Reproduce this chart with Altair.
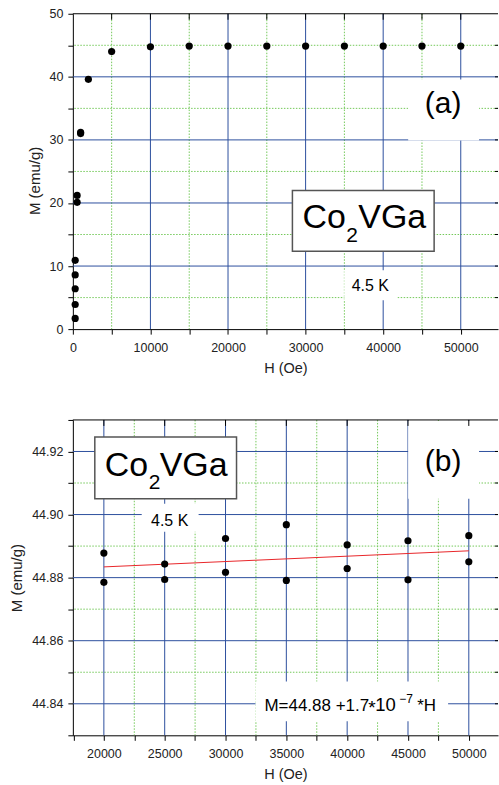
import altair as alt
import pandas as pd

# ---------------- data ----------------
top_H = [300, 300, 300, 300, 300, 550, 550, 1000, 1000, 2000, 5000, 10000, 15000,
         20000, 25000, 30000, 35000, 40000, 45000, 50000]
top_M = [1.7, 3.9, 6.4, 8.6, 10.9, 20.1, 21.2, 31.0, 31.2, 39.6, 44.0, 44.75, 44.87,
         44.88, 44.88, 44.88, 44.88, 44.88, 44.88, 44.88]

bot_H = [20000, 20000, 25000, 25000, 30000, 30000, 35000, 35000,
         40000, 40000, 45000, 45000, 50000, 50000]
bot_M = [44.8878, 44.8785, 44.8843, 44.8794, 44.8924, 44.8817, 44.8968, 44.8791,
         44.8904, 44.8829, 44.8917, 44.8793, 44.8933, 44.8850]

fit_H = [20000, 50000]
fit_M = [44.8834, 44.8885]

# tick / grid values
top_x_ticks = [0, 5000, 10000, 15000, 20000, 25000, 30000, 35000, 40000, 45000, 50000]
top_x_major = [10000, 20000, 30000, 40000, 50000]
top_x_minor = [5000, 15000, 25000, 35000, 45000]
top_y_ticks = [0, 5, 10, 15, 20, 25, 30, 35, 40, 45, 50]
top_y_major = [10, 20, 30, 40]
top_y_minor = [5, 15, 25, 35, 45]
top_toptick = [5000, 10000, 15000, 20000, 25000, 30000, 35000, 40000, 45000, 50000]
top_righttick = [5, 10, 15, 20, 25, 30, 35, 40, 45]

bot_x_ticks = [17500, 20000, 22500, 25000, 27500, 30000, 32500, 35000, 37500,
               40000, 42500, 45000, 47500, 50000]
bot_x_major = [20000, 25000, 30000, 35000, 40000, 45000, 50000]
bot_x_minor = [22500, 27500, 32500, 37500, 42500, 47500]
bot_y_ticks = [44.83, 44.84, 44.85, 44.86, 44.87, 44.88, 44.89, 44.90, 44.91, 44.92, 44.93]
bot_y_major = [44.84, 44.86, 44.88, 44.90, 44.92]
bot_y_minor = [44.85, 44.87, 44.89, 44.91]
bot_toptick = [20000, 25000, 30000, 35000, 40000, 45000, 50000]
bot_righttick = [44.84, 44.85, 44.86, 44.87, 44.88, 44.89, 44.90, 44.91, 44.92]

X_TITLE = "H (Oe)"
Y_TITLE = "M (emu/g)"
COMPOUND = ["Co", "2", "VGa"]
TEMP = "4.5 K"
EQ = ["M=44.88 +1.7", "*", "10", "\u22127", "*H"]

W = 426
H = 316
BLUE = "#2d4f9e"
GREEN = "#74c95a"
FONT = "Liberation Sans"

one = pd.DataFrame({"a": [0]})


def rect(x, x2, y, y2, stroke=None):
    kw = dict(fill="white")
    if stroke:
        kw.update(stroke=stroke, strokeWidth=1.5)
    else:
        kw.update(strokeWidth=0)
    return alt.Chart(one).mark_rect(**kw).encode(
        x=alt.value(x), x2=alt.value(x2), y=alt.value(y), y2=alt.value(y2))


def txt(s, x, y, size, align="left"):
    return alt.Chart(one).mark_text(text=s, font=FONT, fontSize=size, align=align,
                                    baseline="alphabetic", color="black").encode(
        x=alt.value(x), y=alt.value(y))


def panel(Hs, Ms, xdom, ydom, xt, xmaj, xmin, yt, ymaj, ymin, toptick, righttick,
          xlabel_expr, ylabel_expr, annotations, extra=None, ytitle_y=None):
    xs = alt.Scale(domain=xdom, nice=False, zero=False)
    ys = alt.Scale(domain=ydom, nice=False, zero=False)
    xax = alt.Axis(values=xt, labelExpr=xlabel_expr, grid=False,
                   labelFlush=False, labelOverlap=False,
                   labelPadding=7.5, titlePadding=7.5, titleFontSize=14.5)
    ykw = dict(values=yt, labelExpr=ylabel_expr, grid=False,
               labelFlush=False, labelOverlap=False, titleFontSize=15)
    if ytitle_y is not None:
        ykw["titleY"] = ytitle_y
    yax = alt.Axis(**ykw)

    def X(f):
        return alt.X(f, scale=xs, axis=xax, title=X_TITLE)

    def Y(f):
        return alt.Y(f, scale=ys, axis=yax, title=Y_TITLE)

    layers = []
    # grids
    layers.append(alt.Chart(pd.DataFrame({"v": xmin})).mark_rule(
        color=GREEN, strokeDash=[1.5, 1.5], strokeWidth=1).encode(x=X("v:Q")))
    layers.append(alt.Chart(pd.DataFrame({"v": ymin})).mark_rule(
        color=GREEN, strokeDash=[1.5, 1.5], strokeWidth=1).encode(y=Y("v:Q")))
    layers.append(alt.Chart(pd.DataFrame({"v": xmaj})).mark_rule(
        color=BLUE, strokeWidth=1).encode(x=X("v:Q")))
    layers.append(alt.Chart(pd.DataFrame({"v": ymaj})).mark_rule(
        color=BLUE, strokeWidth=1).encode(y=Y("v:Q")))
    # annotations (white boxes + text)
    layers.extend(annotations)
    # top border & inner ticks
    layers.append(alt.Chart(one).mark_rule(color="black", strokeWidth=1).encode(
        x=alt.value(0), x2=alt.value(W), y=alt.value(0)))
    layers.append(alt.Chart(pd.DataFrame({"v": toptick})).mark_rule(
        color="black", strokeWidth=1).encode(
        x=X("v:Q"), y=alt.value(0), y2=alt.value(6)))
    layers.append(alt.Chart(pd.DataFrame({"v": righttick})).mark_rule(
        color="black", strokeWidth=1).encode(
        y=Y("v:Q"), x=alt.value(W - 3), x2=alt.value(W)))
    if extra is not None:
        layers.append(extra(X, Y))
    # points
    df = pd.DataFrame({"H": Hs, "M": Ms})
    layers.append(alt.Chart(df).mark_circle(size=52, color="black", opacity=1).encode(
        x=X("H:Q"), y=Y("M:Q")))
    return alt.layer(*layers).properties(width=W, height=H)


top_ann = [
    rect(336, 407, 66, 127),
    txt("(a)", 371, 99, 30, "center"),
    rect(272, 325, 257, 287),
    txt(TEMP, 298, 278, 16, "center"),
    rect(220, 362, 177, 238, stroke="#555555"),
    txt(COMPOUND[0], 230, 215, 34),
    txt(COMPOUND[1], 274, 229, 21),
    txt(COMPOUND[2], 286, 215, 34),
]

bot_ann = [
    rect(336, 407, 1, 79),
    txt("(b)", 371, 51, 30, "center"),
    rect(69, 126, 84, 112),
    txt(TEMP, 97, 106, 16, "center"),
    rect(22, 164, 17, 79, stroke="#555555"),
    txt(COMPOUND[0], 32, 56, 34),
    txt(COMPOUND[1], 76, 69, 21),
    txt(COMPOUND[2], 87, 56, 34),
    rect(183, 376, 262, 302),
    txt(EQ[0], 192, 292, 17),
    txt(EQ[1], 296, 295, 19),
    txt(EQ[2], 303, 292, 18.5),
    txt(EQ[3], 327, 284, 12),
    txt(EQ[4], 345, 292, 17),
]


def fit_line(X, Y):
    return alt.Chart(pd.DataFrame({"H": fit_H, "M": fit_M})).mark_line(
        color="#e8262a", strokeWidth=1).encode(x=X("H:Q"), y=Y("M:Q"))


top = panel(top_H, top_M, [0, 54800], [0, 50], top_x_ticks, top_x_major, top_x_minor,
            top_y_ticks, top_y_major, top_y_minor, top_toptick, top_righttick,
            "datum.value % 10000 == 0 ? datum.value : ''",
            "datum.value % 10 == 0 ? datum.value : ''", top_ann, ytitle_y=167)

bot = panel(bot_H, bot_M, [17450, 52400], [44.83, 44.93], bot_x_ticks, bot_x_major,
            bot_x_minor, bot_y_ticks, bot_y_major, bot_y_minor, bot_toptick,
            bot_righttick,
            "datum.value % 5000 == 0 ? datum.value : ''",
            "round(datum.value*100) % 2 == 0 ? format(datum.value, '.2f') : ''",
            bot_ann, extra=fit_line)

chart = alt.vconcat(top, bot, spacing=39).properties(
    padding={"left": 9, "top": 7, "right": 0, "bottom": 0}
).configure_view(stroke=None).configure_axis(
    domainColor="black", domainWidth=1, tickColor="black", tickWidth=1, tickSize=5,
    labelFont=FONT, labelFontSize=12.5, labelColor="#222222", labelPadding=5,
    titleFont=FONT, titleFontSize=14.5, titleFontWeight="normal", titleColor="#222222",
    titlePadding=7
)

chart.save("out.html", embed_options={"renderer": "svg", "actions": False})
